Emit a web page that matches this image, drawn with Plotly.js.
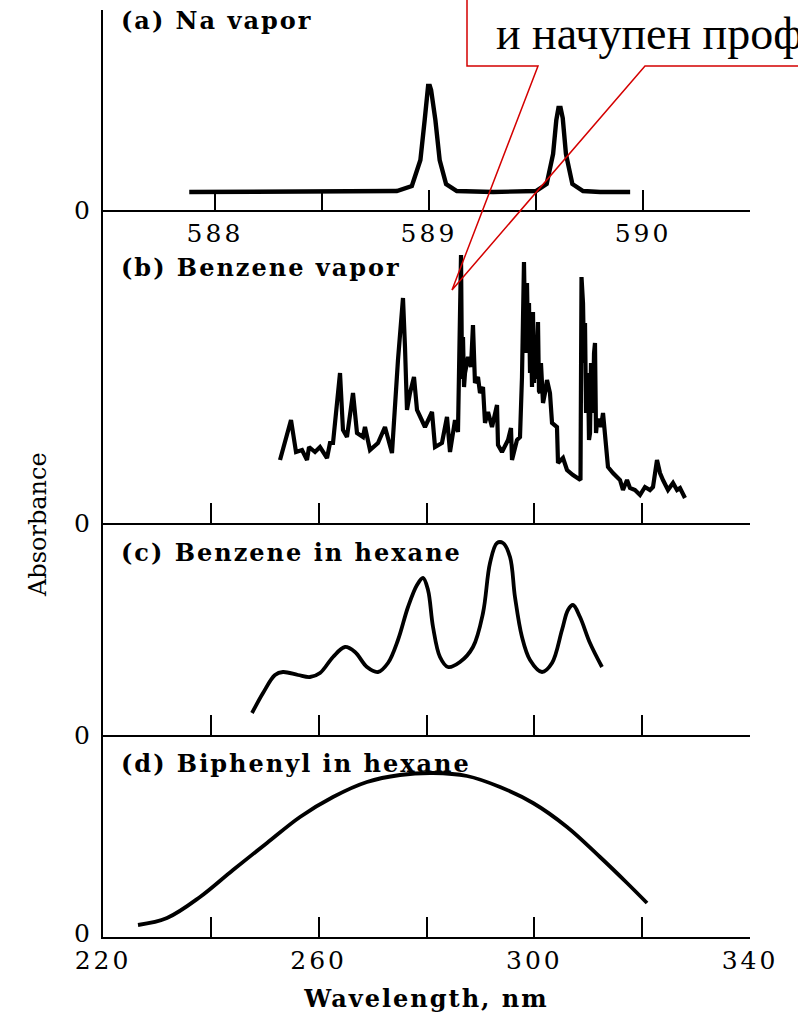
<!DOCTYPE html>
<html>
<head>
<meta charset="utf-8">
<script src="https://cdn.plot.ly/plotly-3.0.1.min.js"></script>
<style>
  html, body { margin: 0; padding: 0; background: #fff; }
  #chart { width: 798px; height: 1019px; }
</style>
</head>
<body>
<div id="chart"></div>
<script>
// ---- Data ----
// (a) Na vapor, wavelength in nm
const naWl  = [587.88, 588.6, 588.85, 588.92, 588.96, 588.98, 588.99, 588.996, 589.004, 589.01, 589.03, 589.05, 589.08, 589.13, 589.3, 589.45,
               589.5, 589.55, 589.58, 589.595, 589.605, 589.615, 589.625, 589.64, 589.67, 589.72, 589.8, 589.94];
const naAbs = [0.09, 0.09, 0.095, 0.12, 0.25, 0.45, 0.58, 0.62, 0.62, 0.60, 0.45, 0.25, 0.13, 0.095, 0.09, 0.09,
               0.095, 0.13, 0.28, 0.45, 0.51, 0.51, 0.46, 0.28, 0.13, 0.095, 0.09, 0.09];

// (b) Benzene vapor
const vapWl  = [252.83, 254.87, 255.80, 256.91, 257.84, 258.21, 259.32, 260.25, 261.55, 262.10, 262.66, 263.96, 264.51, 265.25,
                266.37, 267.11, 268.22, 268.59, 269.52, 271.00, 272.30, 273.60, 274.71, 275.64, 276.01, 276.38, 276.94, 277.68,
                278.24, 279.72, 281.02, 281.58, 282.87, 283.80, 284.36, 285.29, 285.84, 286.40, 286.59, 286.77, 286.96, 287.14, 287.70, 288.25,
                288.62, 288.99, 289.55, 289.92, 290.48, 290.85, 291.41, 292.15, 293.08, 293.26, 294.00, 295.12, 295.67, 295.86,
                296.78, 297.34, 297.71, 298.08, 298.36, 298.64, 298.82, 299.01, 299.20, 299.38, 299.57, 299.75, 299.94, 300.12, 300.31,
                300.68, 300.86, 301.05, 301.23, 301.42, 301.61, 301.98, 302.35,
                302.90, 303.28, 304.20, 304.39, 305.32, 306.06, 307.17, 308.56, 308.75, 309.03, 309.22, 309.40, 309.59, 309.77, 309.96,
                310.14, 310.33, 310.51, 310.69, 310.88, 311.07, 311.25, 311.44, 311.62, 311.99, 312.36, 312.74, 313.11, 313.66, 314.59,
                315.89, 316.44, 317.19, 317.74, 318.67, 319.60, 320.52, 321.45, 322.01,
                322.75, 323.31, 323.86, 324.79, 325.72, 326.46, 327.02, 327.94];
const vapAbs = [0.315, 0.515, 0.355, 0.365, 0.315, 0.38, 0.355, 0.38, 0.325, 0.40, 0.40, 0.75, 0.465, 0.43,
                0.65, 0.45, 0.43, 0.48, 0.365, 0.40, 0.48, 0.35, 0.815, 1.125, 0.88, 0.565, 0.65, 0.73,
                0.565, 0.48, 0.555, 0.38, 0.40, 0.53, 0.355, 0.515, 0.455, 1.34, 0.72, 0.93, 0.68, 0.75, 0.83, 0.78,
                0.99, 0.70, 0.73, 0.65, 0.68, 0.50, 0.555, 0.48, 0.59, 0.39, 0.355, 0.415, 0.475, 0.315,
                0.415, 0.43, 0.73, 1.305, 0.85, 1.20, 0.915, 1.10, 0.75, 0.97, 0.68, 1.055, 0.70, 0.915, 0.72,
                1.005, 0.66, 0.65, 0.80, 0.70, 0.60, 0.65, 0.715,
                0.65, 0.50, 0.48, 0.30, 0.325, 0.265, 0.24, 0.215, 1.23, 1.10, 0.80, 1.00, 0.55, 0.70, 0.75,
                0.415, 0.45, 0.80, 0.68, 0.55, 0.85, 0.90, 0.45, 0.50, 0.52, 0.48, 0.55, 0.43, 0.28, 0.25,
                0.215, 0.165, 0.215, 0.175, 0.165, 0.14, 0.18, 0.165, 0.18,
                0.315, 0.25, 0.215, 0.165, 0.20, 0.165, 0.175, 0.125];

// (c) Benzene in hexane
const hexWl  = [247.64, 249.68, 251.90, 253.38, 256.17, 258.39, 260.25, 262.66, 264.88, 266.74, 268.96, 271.00, 272.86,
                274.71, 276.57, 278.24, 279.35, 280.28, 281.21, 282.50, 283.99, 286.21, 288.62, 290.48, 291.78, 293.08,
                294.19, 295.49, 296.41, 297.71, 299.20, 301.42, 303.28, 305.13, 306.24, 307.17, 308.47, 310.32, 312.55];
const hexAbs = [0.11, 0.21, 0.30, 0.315, 0.30, 0.29, 0.31, 0.39, 0.44, 0.415, 0.34, 0.315, 0.36,
                0.475, 0.64, 0.75, 0.785, 0.725, 0.54, 0.39, 0.34, 0.365, 0.44, 0.61, 0.86, 0.96,
                0.96, 0.89, 0.69, 0.49, 0.375, 0.315, 0.36, 0.525, 0.625, 0.65, 0.59, 0.46, 0.34];

// (d) Biphenyl in hexane
const biWl  = [226.49, 231.87, 237.99, 244.11, 250.42, 256.54, 262.66, 268.96, 275.08, 281.21, 287.51, 293.63, 299.75,
               306.06, 312.18, 317.19, 320.90];
const biAbs = [0.06, 0.095, 0.20, 0.335, 0.47, 0.60, 0.70, 0.775, 0.81, 0.82, 0.805, 0.75, 0.67,
               0.55, 0.40, 0.27, 0.17];

// Tick labels and texts
const naTicks   = [588, 588.5, 589, 589.5, 590, 590.5];
const naLabels  = ['588', '', '589', '', '590', ''];
const wlTicks   = [220, 240, 260, 280, 300, 320, 340];
const wlLabels  = ['220', '', '260', '', '300', '', '340'];
const panelTitles = ['(a) Na vapor', '(b) Benzene vapor', '(c) Benzene in hexane', '(d) Biphenyl in hexane'];
const calloutText = 'и начупен проф';

// ---- Layout helpers ----
const SERIF = 'DejaVu Serif';
const L = 103, R = 48, T = 10, B = 82, W = 798, H = 1019;
const PW = W - L - R, PH = H - T - B;
const px = x => (x - L) / PW;             // pixel -> paper x
const py = y => (H - B - y) / PH;         // pixel -> paper y

const TITLE_LS = 2;                       // letter spacing (px) of panel titles
const TITLE_SIZE = 24;

const curve = {color: '#000', width: 3.8, shape: 'spline', smoothing: 1};

const traces = [
  {x: naWl, y: naAbs, xaxis: 'x', yaxis: 'y', mode: 'lines', line: {color: '#000', width: 4.4}},
  {x: vapWl, y: vapAbs, xaxis: 'x2', yaxis: 'y2', mode: 'lines', line: {color: '#000', width: 4.2}},
  {x: hexWl, y: hexAbs, xaxis: 'x3', yaxis: 'y3', mode: 'lines', line: curve},
  {x: biWl, y: biAbs, xaxis: 'x4', yaxis: 'y4', mode: 'lines', line: curve}
];

const tickFont = {family: SERIF, size: 25, color: '#000'};

function xAxis(anchor, range, tickvals, ticktext, showLabels) {
  return {
    anchor: anchor, range: range, showgrid: false, zeroline: false,
    showline: true, linecolor: '#000', linewidth: 2,
    ticks: 'inside', ticklen: 20, tickwidth: 2, tickcolor: '#000',
    tickmode: 'array', tickvals: tickvals, ticktext: ticktext,
    showticklabels: showLabels, tickfont: tickFont, ticklabelstandoff: 0,
    fixedrange: true
  };
}
function yAxis(anchor, domain, top) {
  return {
    anchor: anchor, domain: domain, range: [0, top], showgrid: false, zeroline: false,
    showline: true, linecolor: '#000', linewidth: 2, ticks: '',
    tickmode: 'array', tickvals: [0], ticktext: ['0'], tickfont: tickFont,
    ticklabelstandoff: 6, fixedrange: true
  };
}

const yb = [937, 735, 523, 210];  // pixel baselines of panels d, c, b, a
const titleY = [20, 267, 552, 763];

function panelTitle(i) {
  const t = panelTitles[i];
  return {text: t, xref: 'paper', yref: 'paper', x: px(119 + t.length * TITLE_LS / 2), y: py(titleY[i]),
          xanchor: 'left', yanchor: 'middle', showarrow: false,
          font: {family: SERIF, size: TITLE_SIZE, weight: 'bold', color: '#000'}};
}

const layout = {
  width: W, height: H,
  margin: {l: L, r: R, t: T, b: B, pad: 0},
  paper_bgcolor: '#fff', plot_bgcolor: 'rgba(0,0,0,0)',
  showlegend: false,
  font: {family: SERIF, color: '#000'},
  xaxis:  xAxis('y',  [587.477, 590.5], naTicks, naLabels, true),
  xaxis2: xAxis('y2', [220, 340], wlTicks, wlLabels, false),
  xaxis3: xAxis('y3', [220, 340], wlTicks, wlLabels, false),
  xaxis4: Object.assign(xAxis('y4', [220, 340], wlTicks, wlLabels, true),
          {title: {text: 'Wavelength, nm', font: {family: SERIF, size: 24, weight: 'bold', color: '#000'}, standoff: 16}}),
  yaxis:  yAxis('x',  [py(yb[3]), 1], 1.0),
  yaxis2: yAxis('x2', [py(yb[2]), py(yb[3])], 1.565),
  yaxis3: yAxis('x3', [py(yb[1]), py(yb[2])], 1.06),
  yaxis4: Object.assign(yAxis('x4', [0, py(yb[1])], 1.01), {ticklabelshift: -4}),
  shapes: [
    {type: 'rect', xref: 'paper', yref: 'paper', x0: px(467), x1: px(810), y0: py(66), y1: py(-10),
     fillcolor: '#fff', line: {width: 0}, layer: 'above'},
    {type: 'path', xref: 'paper', yref: 'paper', layer: 'above',
     path: `M${px(467)},${py(-10)} L${px(467)},${py(66)} L${px(538)},${py(66)} L${px(452)},${py(290)} L${px(645)},${py(66)} L${px(810)},${py(66)}`,
     line: {color: '#d40000', width: 1.5}}
  ],
  annotations: [
    panelTitle(0), panelTitle(1), panelTitle(2), panelTitle(3),
    {text: 'Absorbance', xref: 'paper', yref: 'paper', x: px(38), y: py(525), textangle: -90, showarrow: false,
     xanchor: 'center', yanchor: 'middle', font: {family: SERIF, size: 24, color: '#000'}},
    {text: calloutText, xref: 'paper', yref: 'paper', x: px(494), y: py(33), xanchor: 'left', yanchor: 'middle', showarrow: false,
     font: {family: 'Liberation Serif', size: 46, color: '#000'}}
  ]
};

Plotly.newPlot('chart', traces, layout, {displayModeBar: false, staticPlot: true}).then(gd => {
  // widen tracking of the serif labels to match the original typeset figure
  gd.querySelectorAll('.annotation-text').forEach(t => {
    if (t.textContent.startsWith('(')) t.style.letterSpacing = TITLE_LS + 'px';
  });
  gd.querySelectorAll('.xtick text, .x4tick text').forEach(t => { t.style.letterSpacing = '3px'; });
  gd.querySelectorAll('text.x4title').forEach(t => { t.style.letterSpacing = '2px'; });
});
</script>
</body>
</html>
